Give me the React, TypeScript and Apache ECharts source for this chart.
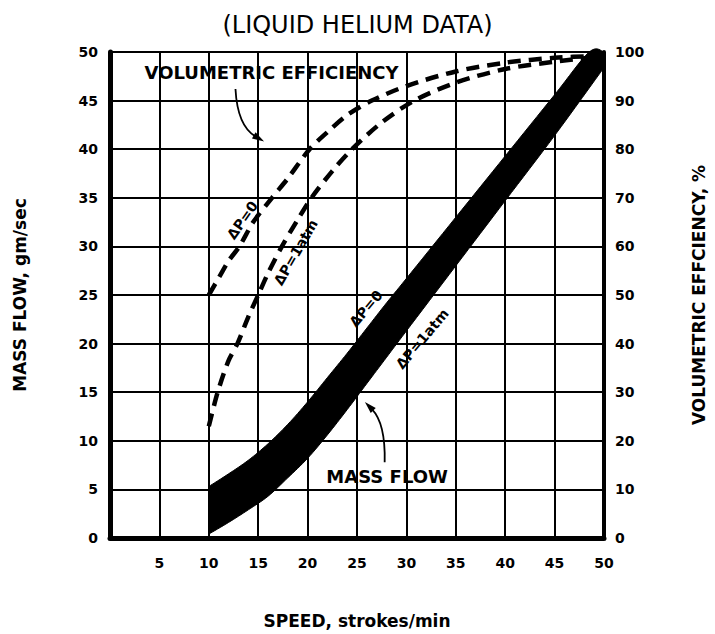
import React, { useEffect, useRef } from "react";
import * as echarts from "echarts";

const TITLE = "(LIQUID HELIUM DATA)";
const X_NAME = "SPEED, strokes/min";
const Y_LEFT_NAME = "MASS FLOW, gm/sec";
const Y_RIGHT_NAME = "VOLUMETRIC EFFCIENCY, %";

// Mass flow band (gm/sec) — lower edge (ΔP=1atm) and upper edge (ΔP=0)
const SPEED_MF_LOWER = [10, 12, 14, 16, 18, 20, 22, 24, 26, 28, 30, 35, 40, 45, 50];
const MF_LOWER = [0.4, 1.6, 2.9, 4.3, 6.2, 8.2, 10.6, 13.2, 15.9, 18.6, 21.3, 28.0, 34.7, 41.4, 48.4];
const SPEED_MF_UPPER = [10, 12, 14, 16, 18, 20, 22, 24, 26, 28, 30, 35, 40, 45, 48.5, 50];
const MF_UPPER = [5.3, 6.6, 8.0, 9.7, 11.7, 14.0, 16.5, 19.0, 21.6, 24.2, 26.7, 33.0, 39.3, 45.6, 50, 50];

// Volumetric efficiency (%)
const SPEED_VE0 = [10, 11, 12, 13.1, 14.5, 16.4, 18, 20.2, 22, 24, 26.5, 30, 35, 40, 45, 49.3];
const VE_DP0 = [50, 53.5, 57, 60, 65, 70, 74, 80, 83.5, 87, 90, 93, 96, 97.8, 98.8, 99.2];
const SPEED_VE1 = [10, 10.9, 12, 12.9, 14, 15, 16, 17.4, 19, 20.4, 22.5, 24.5, 27.5, 30.8, 35, 40, 45, 49.3];
const VE_DP1 = [23, 30, 36.5, 40, 45.5, 50, 54.5, 60, 65.5, 70, 75.5, 80, 85.5, 90, 93.7, 96.5, 98, 99];

const FONT = '"DejaVu Sans", "Liberation Sans", Arial, sans-serif';

const zip = (xs: number[], ys: number[]) => xs.map((x, i) => [x, ys[i]]);

// Catmull-Rom smoothing of a pixel polyline (rendering only)
function smoothPath(pts: number[][], steps = 8): number[][] {
  if (pts.length < 3) return pts;
  const out: number[][] = [];
  for (let i = 0; i < pts.length - 1; i++) {
    const p0 = pts[Math.max(0, i - 1)];
    const p1 = pts[i];
    const p2 = pts[i + 1];
    const p3 = pts[Math.min(pts.length - 1, i + 2)];
    for (let s = 0; s < steps; s++) {
      const t = s / steps;
      const t2 = t * t, t3 = t2 * t;
      const f = (a: number, b: number, c: number, d: number) =>
        0.5 * (2 * b + (-a + c) * t + (2 * a - 5 * b + 4 * c - d) * t2 + (-a + 3 * b - 3 * c + d) * t3);
      out.push([f(p0[0], p1[0], p2[0], p3[0]), f(p0[1], p1[1], p2[1], p3[1])]);
    }
  }
  out.push(pts[pts.length - 1]);
  return out;
}

export default function App() {
  const ref = useRef<HTMLDivElement>(null);
  useEffect(() => {
    const chart = echarts.init(ref.current!, null, { renderer: "svg" });
    const lower = zip(SPEED_MF_LOWER, MF_LOWER);
    const upper = zip(SPEED_MF_UPPER, MF_UPPER);
    const labelStyle = { color: "#000", fontFamily: FONT, fontWeight: "bold" as const, fontSize: 14 };
    const nameStyle = { color: "#000", fontFamily: FONT, fontWeight: "bold" as const, fontSize: 17 };
    chart.setOption({
      animation: false,
      backgroundColor: "#fff",
      title: {
        text: TITLE,
        left: "center",
        top: 8,
        textStyle: { color: "#000", fontFamily: FONT, fontWeight: "normal", fontSize: 24 },
      },
      grid: { left: 110, right: 102, top: 52, bottom: 87, show: false },
      xAxis: {
        type: "value",
        min: 0,
        max: 50,
        interval: 5,
        name: X_NAME,
        nameLocation: "middle",
        nameGap: 74,
        nameTextStyle: nameStyle,
        axisLine: { show: true, lineStyle: { color: "#000", width: 5 } },
        axisTick: { show: false },
        axisLabel: { ...labelStyle, margin: 18, formatter: (v: number) => (v === 0 ? "" : String(v)) },
        splitLine: { show: true, lineStyle: { color: "#000", width: 2 } },
      },
      yAxis: [
        {
          type: "value",
          min: 0,
          max: 50,
          interval: 5,
          position: "left",
          name: Y_LEFT_NAME,
          nameLocation: "middle",
          nameRotate: 90,
          nameGap: 82,
          nameTextStyle: nameStyle,
          axisLine: { show: true, lineStyle: { color: "#000", width: 5 } },
          axisTick: { show: false },
          axisLabel: { ...labelStyle, margin: 12 },
          splitLine: { show: true, lineStyle: { color: "#000", width: 2 } },
        },
        {
          type: "value",
          min: 0,
          max: 100,
          interval: 10,
          position: "right",
          name: Y_RIGHT_NAME,
          nameLocation: "middle",
          nameRotate: 90,
          nameGap: 86,
          nameTextStyle: nameStyle,
          axisLine: { show: true, lineStyle: { color: "#000", width: 4 } },
          axisTick: { show: false },
          axisLabel: { ...labelStyle, margin: 11 },
          splitLine: { show: false },
        },
      ],
      series: [
        {
          type: "custom",
          name: "MASS FLOW",
          coordinateSystem: "cartesian2d",
          xAxisIndex: 0,
          yAxisIndex: 0,
          data: [[30, 25]],
          renderItem: (_p: any, api: any) => {
            const up = smoothPath(upper.map((d) => api.coord(d)));
            const lo = smoothPath(lower.map((d) => api.coord(d)));
            const pts = up.concat(lo.reverse());
            return { type: "polygon", shape: { points: pts }, style: { fill: "#000", stroke: "#000", lineWidth: 1 } };
          },
          z: 3,
        },
        {
          type: "line",
          name: "ΔP=0",
          yAxisIndex: 1,
          data: zip(SPEED_VE0, VE_DP0),
          smooth: 0.3,
          showSymbol: false,
          lineStyle: { color: "#000", width: 4.5, type: [13, 8] },
          z: 4,
        },
        {
          type: "line",
          name: "ΔP=1atm",
          yAxisIndex: 1,
          data: zip(SPEED_VE1, VE_DP1),
          smooth: 0.3,
          showSymbol: false,
          lineStyle: { color: "#000", width: 4.5, type: [13, 8] },
          z: 4,
        },
      ],
    });

    const P = (x: number, y: number) => chart.convertToPixel({ xAxisIndex: 0, yAxisIndex: 0 }, [x, y]) as number[];
    const txt = (x: number, y: number, text: string, deg: number, size: number, align = "center") => {
      const [px, py] = P(x, y);
      return {
        type: "text",
        x: px,
        y: py,
        rotation: (deg * Math.PI) / 180,
        z: 10,
        style: {
          text,
          fill: "#000",
          fontFamily: FONT,
          fontWeight: "bold",
          fontSize: size,
          align,
          verticalAlign: "middle",
          textAlign: align,
          textVerticalAlign: "middle",
        },
      };
    };
    const arrow = (s: number[], c: number[], e: number[]) => {
      const [x1, y1] = P(s[0], s[1]);
      const [cx, cy] = P(c[0], c[1]);
      const [x2, y2] = P(e[0], e[1]);
      const dx = x2 - cx, dy = y2 - cy;
      const len = Math.hypot(dx, dy) || 1;
      const ux = dx / len, uy = dy / len;
      const L = 12, W = 3.5;
      const bx = x2 - ux * L, by = y2 - uy * L;
      return [
        {
          type: "bezierCurve",
          z: 10,
          shape: { x1, y1, x2: bx + ux * 2, y2: by + uy * 2, cpx1: cx, cpy1: cy },
          style: { stroke: "#000", lineWidth: 1.8, fill: "none" },
        },
        {
          type: "polygon",
          z: 10,
          shape: { points: [[x2, y2], [bx - uy * W, by + ux * W], [bx + uy * W, by - ux * W]] },
          style: { fill: "#000" },
        },
      ];
    };

    chart.setOption({
      graphic: [
        txt(3.5, 47.9, "VOLUMETRIC EFFICIENCY", 0, 18, "left"),
        ...arrow([12.7, 46.2], [12.9, 42.4], [15.6, 40.8]),
        txt(21.9, 6.3, "MASS FLOW", 0, 18, "left"),
        ...arrow([27.8, 7.8], [27.9, 11.8], [25.8, 14.0]),
        txt(13.4, 32.7, "ΔP=0", 55, 14),
        txt(18.8, 29.4, "ΔP=1atm", 60, 14),
        txt(25.9, 23.6, "ΔP=0", 50, 14),
        txt(31.6, 20.5, "ΔP=1atm", 50, 14),
      ],
    });

    return () => chart.dispose();
  }, []);
  return <div ref={ref} style={{ position: "fixed", left: 0, top: 0, width: 715, height: 634 }} />;
}
